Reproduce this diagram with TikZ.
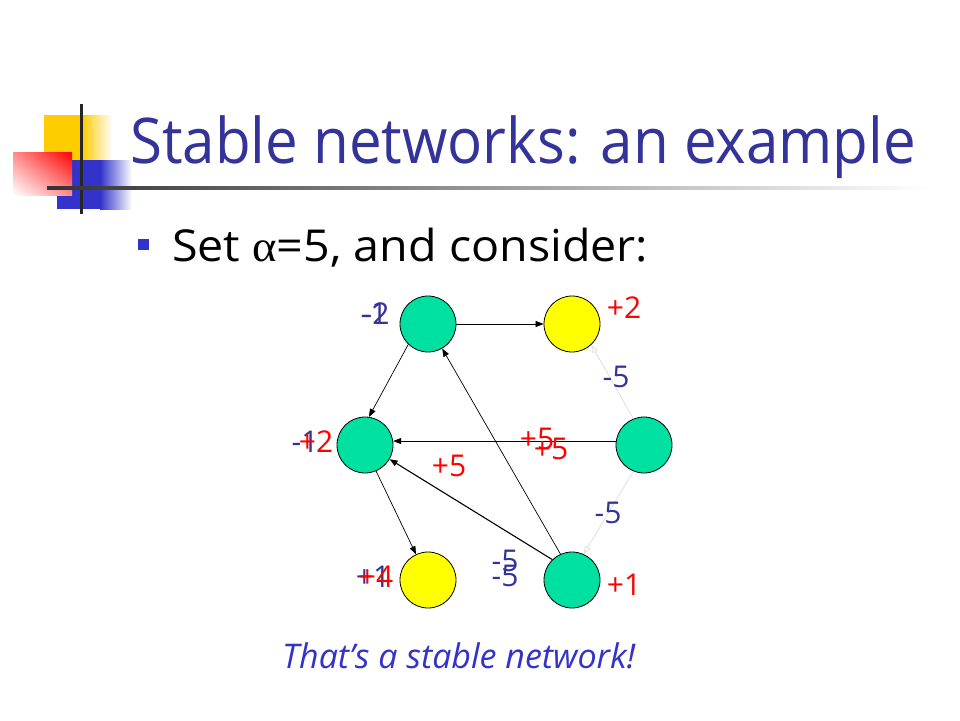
\documentclass[tikz,border=0pt]{standalone}
\usepackage{fontspec}
\setmainfont{Open Sans}
\newfontfamily\greekfont{Liberation Serif}
\usetikzlibrary{arrows.meta,shadings}
\definecolor{ttl}{RGB}{51,51,153}
\definecolor{bul}{RGB}{51,51,204}
\definecolor{grn}{RGB}{0,224,160}
\definecolor{ylw}{RGB}{255,255,0}
\definecolor{gold}{RGB}{255,204,0}
\definecolor{lblue}{RGB}{51,51,204}
\begin{document}
\begin{tikzpicture}[x=1pt,y=-1pt,
  agent/.style={circle,draw=black,line width=0.8pt,minimum size=56pt,inner sep=0pt},
  link/.style={line width=0.7pt,-{Triangle[length=8pt,width=6pt]}},
  boldlink/.style={line width=1.1pt,-{Triangle[length=8pt,width=6pt]}},
  weak/.style={line width=0.8pt,draw=gray!25,-{Triangle[open,length=8pt,width=6pt]}},
  num/.style={font=\fontsize{30}{32}\selectfont,inner sep=0pt},
  rednum/.style={num,text=red},
  bluenum/.style={num,text=ttl}]
\useasboundingbox (0,0) rectangle (960,720);
\fill[white] (0,0) rectangle (960,720);
% logo
\fill[gold] (44,115) rectangle (82,160);
\shade[left color=gold,right color=white] (82,115) rectangle (112,160);
\fill[lblue] (57,160) rectangle (100,209);
\shade[left color=lblue,right color=white] (100,160) rectangle (132,209);
\shade[upper right=red,lower left=white,upper left=red!45!white,lower right=red!45!white] (13,152) rectangle (72,195);
\draw[line width=3pt,black!85] (81,104) -- (81,214);
\shade[left color=black!80,right color=white] (47,186.5) rectangle (930,189.5);
% title and text
\node[anchor=base west,text=ttl,font=\fontsize{63}{70}\selectfont,inner sep=0pt] (title) at (130,163) {\scalebox{0.925}[1]{Stable networks: an example}};
\node[fill=bul,minimum size=11pt,inner sep=0pt] (bullet) at (143,244) {};
\node[anchor=base west,font=\fontsize{44}{48}\selectfont,inner sep=0pt] (set) at (172,261) {\scalebox{1.06}[1]{Set {\greekfont α}=5, and consider:}};
\node[anchor=base west,text=bul,font=\fontsize{34}{36}\selectfont\itshape,inner sep=0pt] (concl) at (282,668) {That’s a stable network!};
% agents
\node[agent,fill=grn] (A) at (428,324) {};
\node[agent,fill=ylw] (B) at (572,324) {};
\node[agent,fill=grn] (C) at (365,445) {};
\node[agent,fill=grn] (D) at (644,445) {};
\node[agent,fill=ylw] (E) at (428,580) {};
\node[agent,fill=grn] (F) at (572,580) {};
% links
\draw[link] (A) -- (B);
\draw[link] (A.226) -- (C.82);
\draw[link] (D.172) -- (C.8);
\draw[boldlink] (F.134) -- (C.-30);
\draw[link] (F.114) -- (A.-60);
\draw[link] (C.-67) -- (E.115);
\draw[weak] (D.112) -- (B.-47);
\draw[weak] (D.-112) -- (F.66);
% payoffs
\node[bluenum] (a1) at (374,314) {-1};
\node[bluenum] (a2) at (376,314) {-2};
\node[rednum] (b1) at (624,308) {+2};
\node[bluenum] (c1) at (305,442) {-1};
\node[rednum] (c2) at (316,442) {+2};
\node[bluenum] (e1) at (373,577) {+1};
\node[rednum] (e2) at (376,577) {+4};
\node[rednum] (f1) at (624,585) {+1};
% link values
\node[rednum] (v1) at (449,466) {+5};
\node[rednum] (v2) at (537,439) {+5};
\node[rednum] (v3) at (551,449) {+5};
\node[bluenum] (v4) at (616,377) {-5};
\node[bluenum] (v5) at (608,513) {-5};
\node[bluenum] (v6) at (505,561) {-5};
\node[bluenum] (v7) at (505,576) {-5};
\end{tikzpicture}
\end{document}
